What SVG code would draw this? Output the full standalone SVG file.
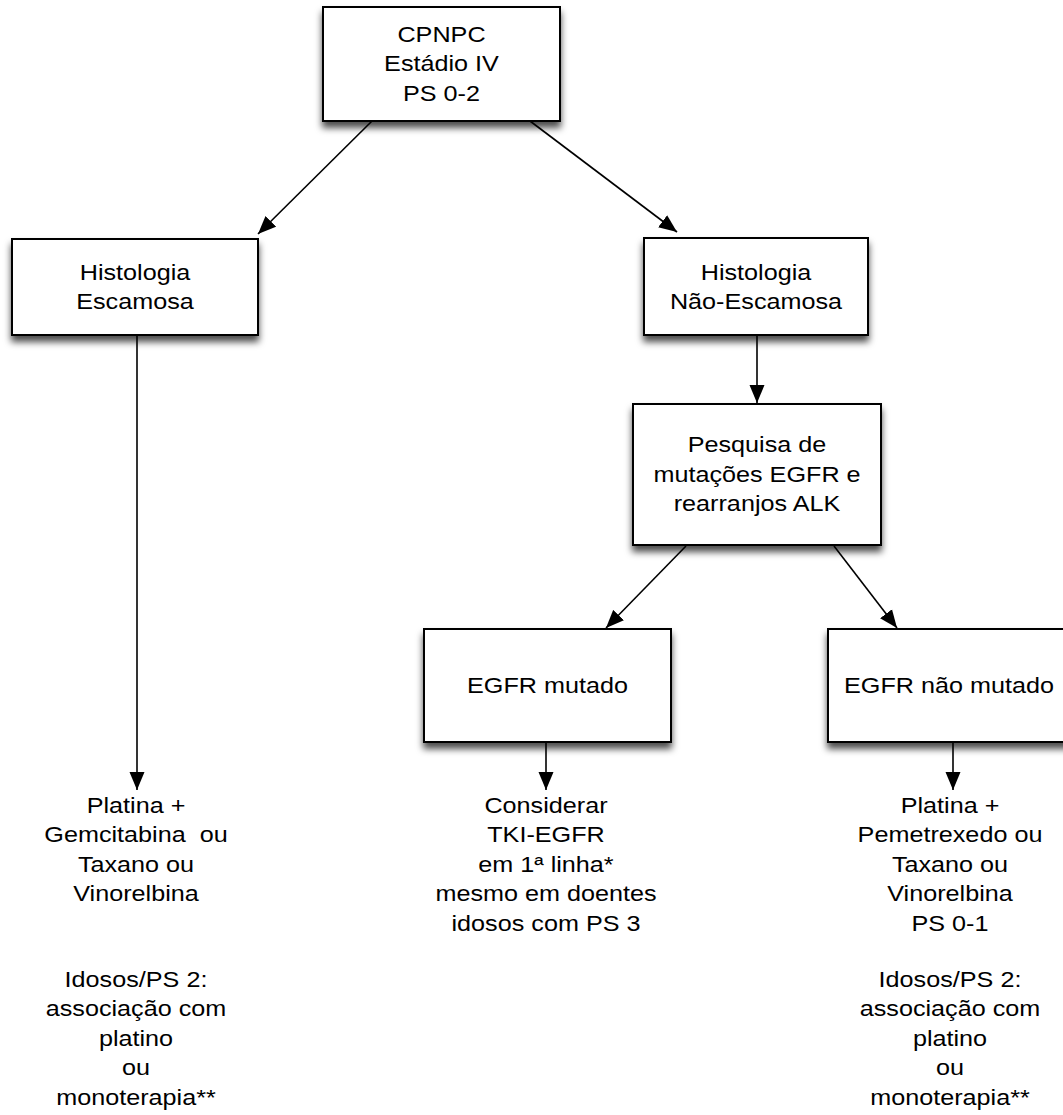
<svg xmlns="http://www.w3.org/2000/svg" width="1063" height="1115" viewBox="0 0 1063 1115">
<style>
.box{fill:#fff;stroke:#000;stroke-width:2;filter:url(#sh)}
.t{font-family:"Liberation Sans",Arial,sans-serif;font-size:22.5px;fill:#000;text-anchor:middle}
.c{stroke:#000;stroke-width:1.6;fill:none;marker-end:url(#ah)}
</style>
<defs>
<filter id="sh" x="-10%" y="-10%" width="120%" height="135%">
<feDropShadow dx="0" dy="6" stdDeviation="3.5" flood-color="#000" flood-opacity="0.7"/>
</filter>
<marker id="ah" markerUnits="userSpaceOnUse" markerWidth="19" markerHeight="16" refX="18" refY="8" orient="auto" viewBox="0 0 19 16">
<path d="M0,0.5 L18,8 L0,15.5 z" fill="#000"/>
</marker>
</defs>
<rect width="1063" height="1115" fill="#fff"/>
<g id="connectors">
<line class="c" x1="372" y1="121" x2="258" y2="234"/>
<line class="c" x1="530" y1="121" x2="677" y2="232"/>
<line class="c" x1="137" y1="336" x2="137" y2="790"/>
<line class="c" x1="757" y1="336" x2="757" y2="403"/>
<line class="c" x1="686" y1="546" x2="606" y2="628"/>
<line class="c" x1="834" y1="546" x2="897" y2="628"/>
<line class="c" x1="546" y1="743" x2="546" y2="790"/>
<line class="c" x1="953" y1="743" x2="953" y2="790"/>
</g>
<g id="n-cpnpc">
<rect class="box" x="323" y="7" width="237" height="114"/>
<text class="t" transform="translate(441.5 0) scale(1.12 1)" x="0" y="42">CPNPC</text>
<text class="t" transform="translate(441.5 0) scale(1.12 1)" x="0" y="71.5">Estádio IV</text>
<text class="t" transform="translate(441.5 0) scale(1.12 1)" x="0" y="101">PS 0-2</text>
</g>
<g id="n-escamosa">
<rect class="box" x="12" y="239" width="246" height="96"/>
<text class="t" transform="translate(135 0) scale(1.12 1)" x="0" y="280">Histologia</text>
<text class="t" transform="translate(135 0) scale(1.12 1)" x="0" y="309.5">Escamosa</text>
</g>
<g id="n-nao-escamosa">
<rect class="box" x="644" y="238" width="224" height="97"/>
<text class="t" transform="translate(756 0) scale(1.12 1)" x="0" y="280">Histologia</text>
<text class="t" transform="translate(756 0) scale(1.12 1)" x="0" y="309.5">Não-Escamosa</text>
</g>
<g id="n-pesquisa">
<rect class="box" x="633" y="404" width="248" height="141"/>
<text class="t" transform="translate(757 0) scale(1.12 1)" x="0" y="452.5">Pesquisa de</text>
<text class="t" transform="translate(757 0) scale(1.12 1)" x="0" y="482">mutações EGFR e</text>
<text class="t" transform="translate(757 0) scale(1.12 1)" x="0" y="511.5">rearranjos ALK</text>
</g>
<g id="n-egfr-mutado">
<rect class="box" x="424" y="629" width="247" height="113"/>
<text class="t" transform="translate(547.5 0) scale(1.12 1)" x="0" y="693">EGFR mutado</text>
</g>
<g id="n-egfr-nao-mutado">
<rect class="box" x="828" y="629" width="242" height="113"/>
<text class="t" transform="translate(949 0) scale(1.12 1)" x="0" y="693">EGFR não mutado</text>
</g>
<g id="n-tx-escamosa">
<text class="t" transform="translate(136 0) scale(1.12 1)" x="0" y="813">Platina +</text>
<text class="t" transform="translate(136 0) scale(1.12 1)" x="0" y="842.5" style="white-space:pre">Gemcitabina  ou</text>
<text class="t" transform="translate(136 0) scale(1.12 1)" x="0" y="872">Taxano ou</text>
<text class="t" transform="translate(136 0) scale(1.12 1)" x="0" y="901.5">Vinorelbina</text>
<text class="t" transform="translate(136 0) scale(1.12 1)" x="0" y="987">Idosos/PS 2:</text>
<text class="t" transform="translate(136 0) scale(1.12 1)" x="0" y="1016.5">associação com</text>
<text class="t" transform="translate(136 0) scale(1.12 1)" x="0" y="1046">platino</text>
<text class="t" transform="translate(136 0) scale(1.12 1)" x="0" y="1075.5">ou</text>
<text class="t" transform="translate(136 0) scale(1.12 1)" x="0" y="1105">monoterapia**</text>
</g>
<g id="n-tx-mutado">
<text class="t" transform="translate(546 0) scale(1.12 1)" x="0" y="813">Considerar</text>
<text class="t" transform="translate(546 0) scale(1.12 1)" x="0" y="842.5">TKI-EGFR</text>
<text class="t" transform="translate(546 0) scale(1.12 1)" x="0" y="872">em 1ª linha*</text>
<text class="t" transform="translate(546 0) scale(1.12 1)" x="0" y="901.5">mesmo em doentes</text>
<text class="t" transform="translate(546 0) scale(1.12 1)" x="0" y="931">idosos com PS 3</text>
</g>
<g id="n-tx-nao-mutado">
<text class="t" transform="translate(950 0) scale(1.12 1)" x="0" y="813">Platina +</text>
<text class="t" transform="translate(950 0) scale(1.12 1)" x="0" y="842.5">Pemetrexedo ou</text>
<text class="t" transform="translate(950 0) scale(1.12 1)" x="0" y="872">Taxano ou</text>
<text class="t" transform="translate(950 0) scale(1.12 1)" x="0" y="901.5">Vinorelbina</text>
<text class="t" transform="translate(950 0) scale(1.12 1)" x="0" y="931">PS 0-1</text>
<text class="t" transform="translate(950 0) scale(1.12 1)" x="0" y="987">Idosos/PS 2:</text>
<text class="t" transform="translate(950 0) scale(1.12 1)" x="0" y="1016.5">associação com</text>
<text class="t" transform="translate(950 0) scale(1.12 1)" x="0" y="1046">platino</text>
<text class="t" transform="translate(950 0) scale(1.12 1)" x="0" y="1075.5">ou</text>
<text class="t" transform="translate(950 0) scale(1.12 1)" x="0" y="1105">monoterapia**</text>
</g>
</svg>
